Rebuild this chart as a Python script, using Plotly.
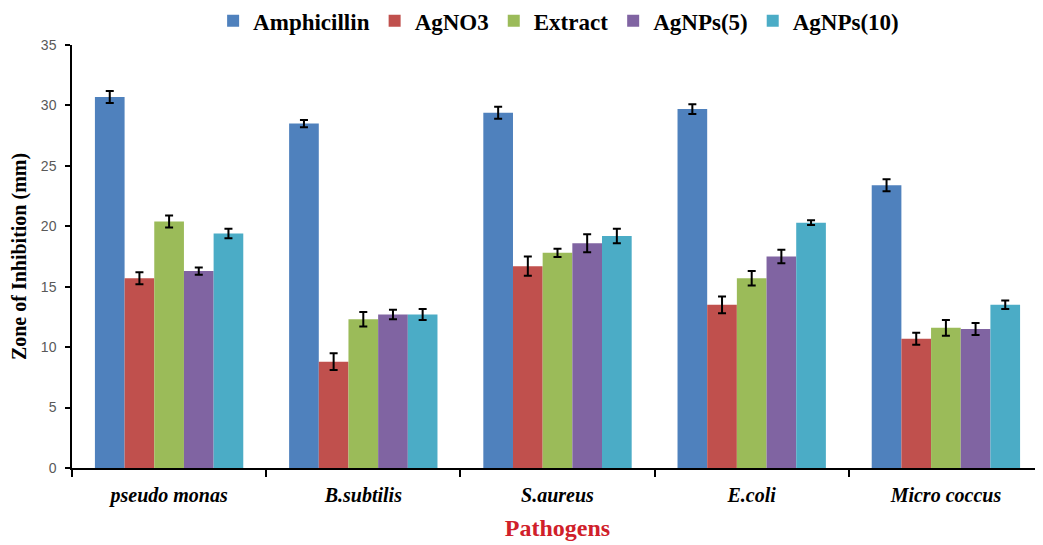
import plotly.graph_objects as go

categories = ["pseudo monas", "B.subtilis", "S.aureus", "E.coli", "Micro coccus"]
series_names = ["Amphicillin", "AgNO3", "Extract", "AgNPs(5)", "AgNPs(10)"]
amphicillin = [30.7, 28.5, 29.4, 29.7, 23.4]
agno3 = [15.7, 8.8, 16.7, 13.5, 10.7]
extract = [20.4, 12.3, 17.8, 15.7, 11.6]
agnps5 = [16.3, 12.7, 18.6, 17.5, 11.5]
agnps10 = [19.4, 12.7, 19.2, 20.3, 13.5]
amphicillin_err = [0.5, 0.3, 0.5, 0.4, 0.5]
agno3_err = [0.5, 0.7, 0.8, 0.7, 0.5]
extract_err = [0.5, 0.6, 0.35, 0.6, 0.65]
agnps5_err = [0.3, 0.4, 0.75, 0.55, 0.5]
agnps10_err = [0.4, 0.45, 0.6, 0.2, 0.35]
colors = ["#4F81BD", "#C0504D", "#9BBB59", "#8064A2", "#4BACC6"]

values = [amphicillin, agno3, extract, agnps5, agnps10]
errors = [amphicillin_err, agno3_err, extract_err, agnps5_err, agnps10_err]

fig = go.Figure()
for name, vals, errs, col in zip(series_names, values, errors, colors):
    fig.add_trace(go.Bar(
        name=name, x=categories, y=vals, marker_color=col,
        marker_line_width=0,
        error_y=dict(type="data", array=errs, visible=True,
                     color="black", thickness=2, width=4),
    ))

serif = "Liberation Serif, Times New Roman, serif"
fig.update_layout(
    width=1035, height=537,
    barmode="group", bargap=0.236, bargroupgap=0,
    plot_bgcolor="white", paper_bgcolor="white",
    margin=dict(l=64, r=0, t=37, b=77, autoexpand=False),
    legend=dict(orientation="h", x=0.532, xref="container", xanchor="center",
                y=0.976, yref="container", yanchor="middle",
                font=dict(family=serif, size=23, color="black", weight="bold"),
                itemwidth=30, traceorder="normal"),
    xaxis=dict(
        automargin=False,
        showline=True, linecolor="black", linewidth=2,
        ticks="outside", tickson="boundaries", ticklen=7, tickwidth=2, tickcolor="black",
        tickfont=dict(family=serif, size=20, color="black", weight="bold", style="italic"),
        ticklabelstandoff=8,
        title=dict(text="Pathogens", font=dict(family=serif, size=24, color="#D0202A", weight="bold"),
                   standoff=13),
        showgrid=False,
    ),
    yaxis=dict(
        automargin=False,
        range=[0, 35], dtick=5, showline=True, linecolor="black", linewidth=1.5,
        ticks="outside", ticklen=5, tickwidth=1.5, tickcolor="black",
        tickfont=dict(family="Liberation Sans, Arial, sans-serif", size=14, color="#595959"),
        ticklabelstandoff=6,
        showgrid=False, zeroline=False,
        title=dict(text="Zone of Inhibition (mm)", font=dict(family=serif, size=20, color="black", weight="bold"),
                   standoff=20),
    ),
)

fig.write_html("out.html")
